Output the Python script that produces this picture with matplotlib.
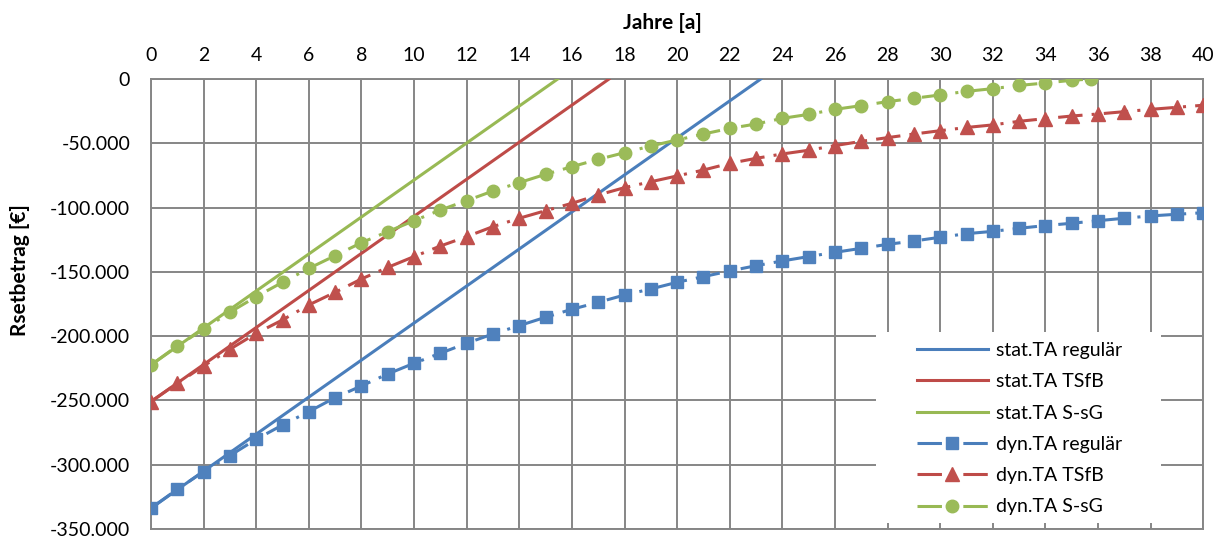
import matplotlib
matplotlib.use("Agg")
import matplotlib.pyplot as plt
from matplotlib.patches import Rectangle
from matplotlib.ticker import FuncFormatter, MultipleLocator

plt.rcParams["font.family"] = ["Lato", "DejaVu Sans"]

# Static amortisation: straight lines from investment to break-even year
stat_x_regular = [0, 23.18]
stat_y_regular = [-333800, 0]
stat_x_tsfb = [0, 17.41]
stat_y_tsfb = [-250900, 0]
stat_x_ssg = [0, 15.46]
stat_y_ssg = [-222400, 0]

# Dynamic amortisation (yearly values)
years = list(range(0, 41))
dyn_regular = [-333800, -319100, -305400, -292900, -280200, -269100, -258700, -247800,
               -238700, -229400, -221100, -213300, -205500, -198300, -191800, -185300,
               -179100, -173700, -168000, -163300, -158100, -153700, -149300, -145200,
               -141500, -138100, -134800, -131700, -128600, -126000, -123100, -120300,
               -118500, -116100, -114000, -112200, -110200, -108300, -106500, -105200,
               -104000]
dyn_tsfb = [-250900, -236700, -223200, -210200, -197800, -187400, -175700, -165900,
            -155500, -146500, -138100, -129900, -122600, -114800, -108300, -102400,
            -96700, -90200, -84500, -79900, -75400, -70800, -65600, -61700,
            -58300, -55400, -51800, -48500, -45600, -42800, -40200, -37700,
            -35700, -32900, -30800, -28800, -27200, -25400, -23600, -22000,
            -20400]
dyn_ssg_x = list(range(0, 36)) + [35.73]
dyn_ssg = [-222400, -207600, -194600, -181400, -169300, -158100, -147300, -137400,
           -127300, -118700, -110200, -101900, -94600, -87100, -80600, -74100,
           -68200, -62500, -57300, -52100, -47400, -42800, -38400, -35000,
           -30600, -27500, -23600, -20700, -17600, -15000, -12400, -9600,
           -7500, -5000, -3100, -1000, 0]

labels = ["stat.TA regulär", "stat.TA TSfB", "stat.TA S-sG",
          "dyn.TA regulär", "dyn.TA TSfB", "dyn.TA S-sG"]

blue_line, blue_mark = "#4A7EBB", "#4F81BD"
red_line, red_mark = "#BE4B48", "#C0504D"
green_line, green_mark = "#98B954", "#9BBB59"
grid_col = "#868686"

W, H = 1224, 539
fig = plt.figure(figsize=(W / 100, H / 100), dpi=100)
ax_l, ax_r, ax_t, ax_b = 151, 1203.3, 79, 529
ax = fig.add_axes([ax_l / W, 1 - ax_b / H, (ax_r - ax_l) / W, (ax_b - ax_t) / H])

lw = 2.2
ax.plot(stat_x_regular, stat_y_regular, color=blue_line, lw=lw, label=labels[0], zorder=3)
ax.plot(stat_x_tsfb, stat_y_tsfb, color=red_line, lw=lw, label=labels[1], zorder=3)
ax.plot(stat_x_ssg, stat_y_ssg, color=green_line, lw=lw, label=labels[2], zorder=3)

dash = (0, (8, 3, 1, 3))
ax.plot(years, dyn_regular, color=blue_line, lw=lw, linestyle=dash, marker="s",
        markersize=8.5, markerfacecolor=blue_mark, markeredgecolor=blue_mark,
        label=labels[3], zorder=4)
ax.plot(years, dyn_tsfb, color=red_line, lw=lw, linestyle=dash, marker="^",
        markersize=9.5, markerfacecolor=red_mark, markeredgecolor=red_mark,
        label=labels[4], zorder=4)
ax.plot(dyn_ssg_x, dyn_ssg, color=green_line, lw=lw, linestyle=dash, marker="o",
        markersize=9, markerfacecolor=green_mark, markeredgecolor=green_mark,
        label=labels[5], zorder=4)

ax.set_xlim(0, 40)
ax.set_ylim(-350000, 0)
ax.xaxis.set_major_locator(MultipleLocator(2))
ax.yaxis.set_major_locator(MultipleLocator(50000))
ax.yaxis.set_major_formatter(FuncFormatter(lambda v, p: f"{int(v):,}".replace(",", ".")))
ax.xaxis.tick_top()
ax.tick_params(axis="both", length=0, labelsize=14, colors="black")
ax.tick_params(axis="x", pad=11)
ax.tick_params(axis="y", pad=15)

ax.grid(True, color=grid_col, lw=1.4, zorder=0)
ax.set_axisbelow(True)
for s in ax.spines.values():
    s.set_color(grid_col)
    s.set_linewidth(1.4)

fig.text(662 / W, 1 - 23 / H, "Jahre [a]", ha="center", va="center",
         fontsize=15, fontweight="bold")
fig.text(20 / W, 1 - 270 / H, "Rsetbetrag [€]", ha="center", va="center",
         rotation=90, fontsize=15, fontweight="bold")

# White legend area in the lower right of the plot
bx0, bx1, by0, by1 = 876, 1161, 332, 523
ax.add_patch(Rectangle(((bx0 - ax_l) / (ax_r - ax_l), (ax_b - by1) / (ax_b - ax_t)),
                       (bx1 - bx0) / (ax_r - ax_l), (by1 - by0) / (ax_b - ax_t),
                       transform=ax.transAxes, facecolor="white", edgecolor="none",
                       zorder=1))

leg = ax.legend(loc="upper left", bbox_to_anchor=(917 / W, 1 - 342 / H),
                bbox_transform=fig.transFigure, frameon=False, fontsize=14,
                handlelength=3.65, labelspacing=0.735, borderpad=0,
                handletextpad=0.42, borderaxespad=0)
leg.set_zorder(5)

fig.savefig("out.png", dpi=100)
